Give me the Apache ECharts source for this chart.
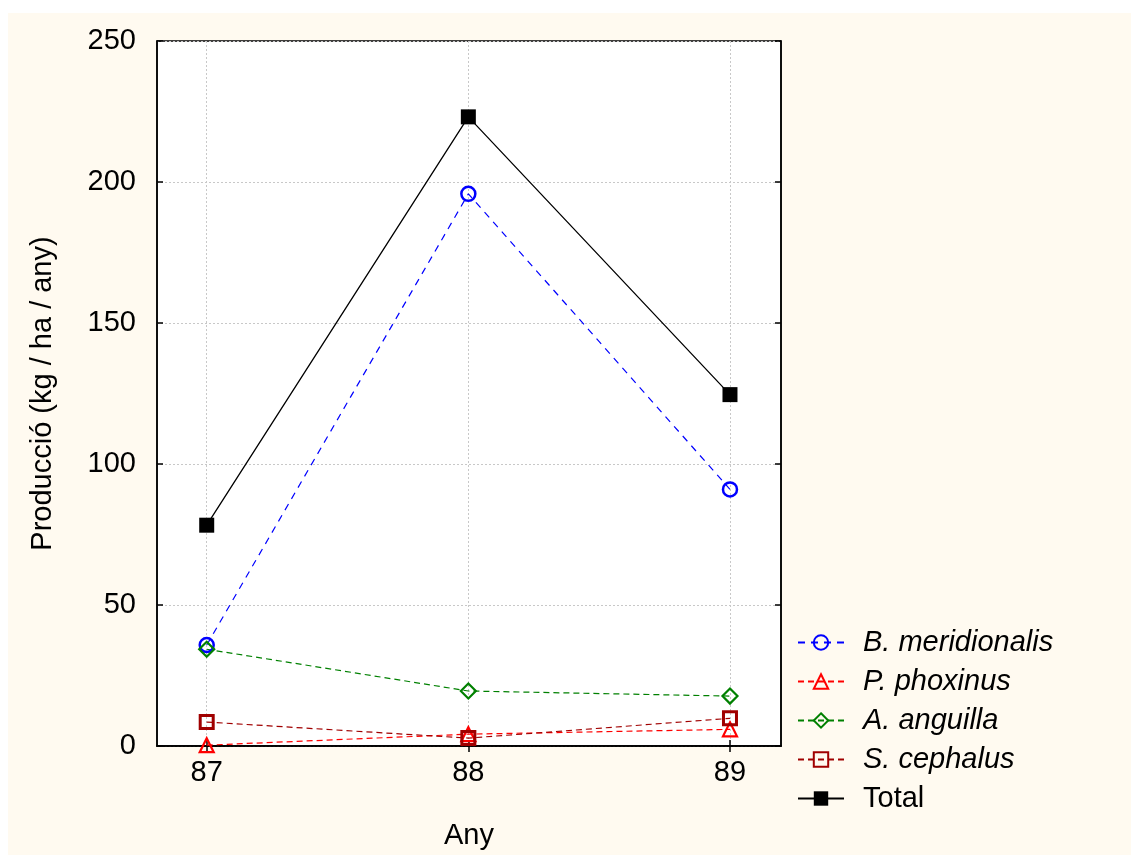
<!DOCTYPE html>
<html>
<head>
<meta charset="utf-8">
<script src="https://cdn.jsdelivr.net/npm/echarts@6/dist/echarts.min.js"></script>
<style>
  html, body { margin: 0; padding: 0; background: #ffffff; }
  #chart { width: 1131px; height: 855px; }
</style>
</head>
<body>
<div id="chart"></div>
<script>
// Data
const years = [87, 88, 89];
const yTicks = [0, 50, 100, 150, 200, 250];
const bMeridionalis = [35.8, 195.8, 91.0];
const pPhoxinus = [0.3, 4.2, 5.9];
const aAnguilla = [34.3, 19.5, 17.7];
const sCephalus = [8.5, 2.8, 9.8];
const total = [78.3, 223.1, 124.6];

const seriesNames = ['B. meridionalis', 'P. phoxinus', 'A. anguilla', 'S. cephalus', 'Total'];

function pairs(vals) { return years.map((y, i) => [y, vals[i]]); }

const FONT = 'Liberation Sans, Arial, sans-serif';
const FS = 29;
const chart = echarts.init(document.getElementById('chart'));

function hollowSeries(name, vals, color, symbol, size, dash, bw) {
  return {
    name: name, type: 'line', data: pairs(vals),
    symbol: symbol, symbolSize: size, showSymbol: true,
    lineStyle: { color: color, width: 1.2, type: dash },
    itemStyle: { color: 'rgba(255,255,255,0)', borderColor: color, borderWidth: bw },
    emphasis: { disabled: true }, animation: false, z: 3
  };
}

const xBase = { type: 'value', min: 86.81, max: 89.195, scale: true };

chart.setOption({
  backgroundColor: '#ffffff',
  animation: false,
  graphic: [{
    type: 'rect', left: 8, top: 13, z: -100, silent: true,
    shape: { width: 1123, height: 842 },
    style: { fill: '#FFFAF0' }
  }],
  grid: {
    left: 157, top: 41, width: 624, height: 706,
    show: true, backgroundColor: '#ffffff', borderColor: '#000', borderWidth: 1.5,
    containLabel: false
  },
  legend: {
    orient: 'vertical', left: 797, top: 628, padding: 0,
    itemWidth: 46, itemHeight: 18, itemGap: 10,
    textStyle: { fontFamily: FONT, fontSize: FS, color: '#000', lineHeight: 28, padding: [0, 0, 0, 14] },
    selectedMode: false,
    data: seriesNames.map(n => ({
      name: n,
      textStyle: { fontStyle: n === 'Total' ? 'normal' : 'italic' }
    }))
  },
  xAxis: [
    Object.assign({}, xBase, {
      position: 'bottom',
      name: 'Any', nameLocation: 'middle', nameGap: 75,
      nameTextStyle: { fontFamily: FONT, fontSize: FS, color: '#000' },
      axisLine: { show: true, lineStyle: { color: '#000', width: 1.5 } },
      axisTick: { show: true, inside: true, length: 6, customValues: years, lineStyle: { color: '#000', width: 1.5 } },
      axisLabel: { show: true, customValues: years, margin: 12, fontFamily: FONT, fontSize: FS, color: '#000',
                   formatter: v => String(Math.round(v)) },
      splitLine: { show: true, lineStyle: { color: '#c8c8c8', width: 1, type: [2, 2] } }
    }),
    Object.assign({}, xBase, {
      position: 'top',
      axisLine: { show: true, lineStyle: { color: '#000', width: 1.5 } },
      axisTick: { show: true, inside: true, length: 6, customValues: years, lineStyle: { color: '#000', width: 1.5 } },
      axisLabel: { show: false },
      splitLine: { show: false }
    })
  ],
  yAxis: [
    {
      type: 'value', min: 0, max: 250, interval: 50, position: 'left',
      name: 'Producció (kg / ha / any)', nameLocation: 'middle', nameGap: 100,
      nameTextStyle: { fontFamily: FONT, fontSize: FS, color: '#000' },
      axisLine: { show: true, lineStyle: { color: '#000', width: 1.5 } },
      axisTick: { show: true, inside: true, length: 6, lineStyle: { color: '#000', width: 1.5 } },
      axisLabel: { show: true, margin: 21, fontFamily: FONT, fontSize: FS, color: '#000' },
      splitLine: { show: true, lineStyle: { color: '#c8c8c8', width: 1, type: [2, 2] } }
    },
    {
      type: 'value', min: 0, max: 250, interval: 50, position: 'right',
      axisLine: { show: true, lineStyle: { color: '#000', width: 1.5 } },
      axisTick: { show: true, inside: true, length: 6, lineStyle: { color: '#000', width: 1.5 } },
      axisLabel: { show: false },
      splitLine: { show: false }
    }
  ],
  series: [
    hollowSeries('B. meridionalis', bMeridionalis, '#0000FF', 'circle', 14, [7, 6], 2.5),
    hollowSeries('P. phoxinus', pPhoxinus, '#FF0000', 'triangle', 14, [6, 4], 2.2),
    hollowSeries('A. anguilla', aAnguilla, '#008000', 'diamond', 15, [6, 4], 2.2),
    hollowSeries('S. cephalus', sCephalus, '#A00000', 'rect', 13, [6, 4], 3),
    {
      name: 'Total', type: 'line', data: pairs(total),
      symbol: 'rect', symbolSize: 15,
      lineStyle: { color: '#000', width: 1.3, type: 'solid' },
      itemStyle: { color: '#000' },
      emphasis: { disabled: true }, z: 4
    }
  ]
});
</script>
</body>
</html>
